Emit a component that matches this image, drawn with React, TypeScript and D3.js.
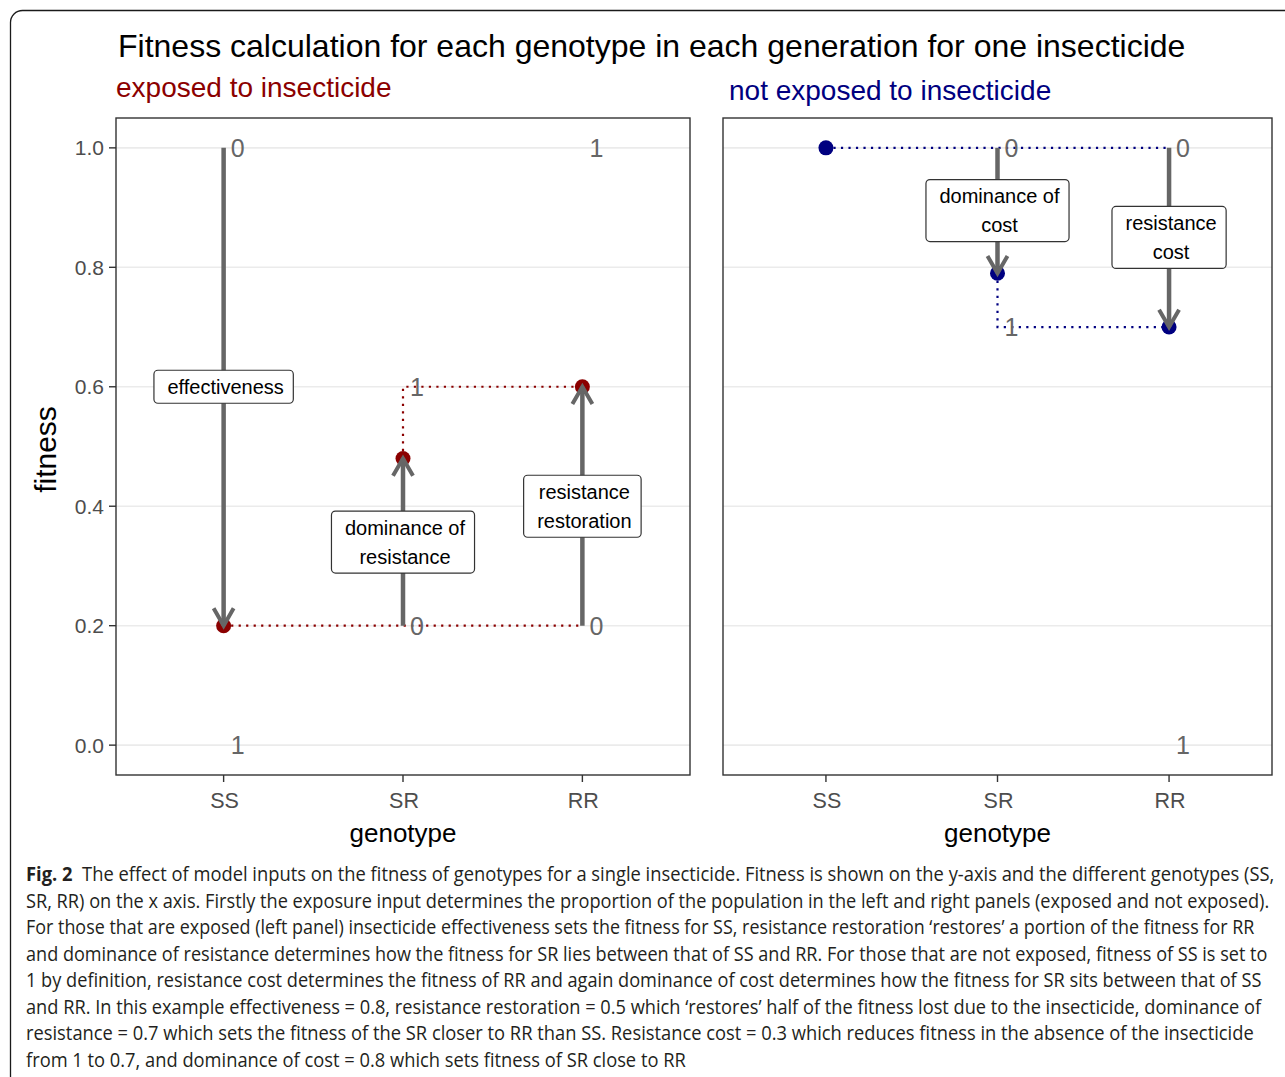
import React, { useEffect, useRef } from "react";
import * as d3 from "d3";

// ---- data ----
const genotypes = ["SS", "SR", "RR"];
const yTicks = [0, 0.2, 0.4, 0.6, 0.8, 1.0];

// exposed to insecticide
const exposedFitness = [0.2, 0.48, 0.6];
const exposedArrows = [
  { g: "SS", from: 1.0, to: 0.2 },
  { g: "SR", from: 0.2, to: 0.48 },
  { g: "RR", from: 0.2, to: 0.6 },
];
const exposedScaleMarks = [
  { g: "SS", y: 1.0, t: "0" },
  { g: "SS", y: 0.0, t: "1" },
  { g: "SR", y: 0.2, t: "0" },
  { g: "SR", y: 0.6, t: "1" },
  { g: "RR", y: 0.2, t: "0" },
  { g: "RR", y: 1.0, t: "1" },
];
const exposedLabels = [
  { g: "SS", y: 0.6, lines: ["effectiveness"] },
  { g: "SR", y: 0.34, lines: ["dominance of", "resistance"] },
  { g: "RR", y: 0.4, lines: ["resistance", "restoration"] },
];
const exposedGuides = [
  [["SS", 0.2], ["RR", 0.2]],
  [["SR", 0.48], ["SR", 0.6], ["RR", 0.6]],
];

// not exposed to insecticide
const unexposedFitness = [1.0, 0.79, 0.7];
const unexposedArrows = [
  { g: "SR", from: 1.0, to: 0.79 },
  { g: "RR", from: 1.0, to: 0.7 },
];
const unexposedScaleMarks = [
  { g: "SR", y: 1.0, t: "0" },
  { g: "SR", y: 0.7, t: "1" },
  { g: "RR", y: 1.0, t: "0" },
  { g: "RR", y: 0.0, t: "1" },
];
const unexposedLabels = [
  { g: "SR", y: 0.895, lines: ["dominance of", "cost"] },
  { g: "RR", y: 0.85, lines: ["resistance", "cost"] },
];
const unexposedGuides = [
  [["SS", 1.0], ["RR", 1.0]],
  [["SR", 0.79], ["SR", 0.7], ["RR", 0.7]],
];

const title = "Fitness calculation for each genotype in each generation for one insecticide";
const captionLead = "Fig. 2";
const captionLines = [
  "The effect of model inputs on the fitness of genotypes for a single insecticide. Fitness is shown on the y-axis and the different genotypes (SS,",
  "SR, RR) on the x axis. Firstly the exposure input determines the proportion of the population in the left and right panels (exposed and not exposed).",
  "For those that are exposed (left panel) insecticide effectiveness sets the fitness for SS, resistance restoration \u2018restores\u2019 a portion of the fitness for RR",
  "and dominance of resistance determines how the fitness for SR lies between that of SS and RR. For those that are not exposed, fitness of SS is set to",
  "1 by definition, resistance cost determines the fitness of RR and again dominance of cost determines how the fitness for SR sits between that of SS",
  "and RR. In this example effectiveness = 0.8, resistance restoration = 0.5 which \u2018restores\u2019 half of the fitness lost due to the insecticide, dominance of",
  "resistance = 0.7 which sets the fitness of the SR closer to RR than SS. Resistance cost = 0.3 which reduces fitness in the absence of the insecticide",
  "from 1 to 0.7, and dominance of cost = 0.8 which sets fitness of SR close to RR",
];
const captionLineEnds = [1275, 1270, 1255, 1268, 1262, 1262, 1255, 686];

const FONT = "'Liberation Sans', Arial, sans-serif";
const ARROW = "#666666";

export default function App() {
  const ref = useRef<SVGSVGElement>(null);

  useEffect(() => {
    const svg = d3.select(ref.current);
    svg.selectAll("*").remove();

    // figure frame
    svg.append("rect")
      .attr("x", 10.5).attr("y", 10.5)
      .attr("width", 1320).attr("height", 1120)
      .attr("rx", 12)
      .attr("fill", "none").attr("stroke", "#1a1a1a").attr("stroke-width", 1.3);

    svg.append("text")
      .attr("x", 118).attr("y", 57)
      .attr("font-family", FONT).attr("font-size", 32).attr("fill", "#000")
      .text(title);

    const top = 118, bottom = 775;
    const y = d3.scaleLinear().domain([-0.05, 1.05]).range([bottom, top]);

    const panels = [
      {
        x0: 116, x1: 690, color: "#8B0000", subtitle: "exposed to insecticide", subX: 116, subY: 97,
        fitness: exposedFitness, arrows: exposedArrows, marks: exposedScaleMarks,
        labels: exposedLabels, guides: exposedGuides, yAxis: true,
      },
      {
        x0: 723, x1: 1272, color: "#000080", subtitle: "not exposed to insecticide", subX: 729, subY: 100,
        fitness: unexposedFitness, arrows: unexposedArrows, marks: unexposedScaleMarks,
        labels: unexposedLabels, guides: unexposedGuides, yAxis: false,
      },
    ];

    panels.forEach((p) => {
      const x = d3.scalePoint<string>().domain(genotypes).range([p.x0, p.x1]).padding(0.6);
      const g = svg.append("g");

      g.append("text")
        .attr("x", p.subX).attr("y", p.subY)
        .attr("font-family", FONT).attr("font-size", 28).attr("fill", p.color)
        .text(p.subtitle);

      // grid
      g.selectAll(".grid").data(yTicks).join("line")
        .attr("x1", p.x0).attr("x2", p.x1)
        .attr("y1", (d) => y(d)).attr("y2", (d) => y(d))
        .attr("stroke", "#EBEBEB").attr("stroke-width", 1.6);

      // dotted guides
      const lineGen = d3.line<any>().x((d) => x(d[0])!).y((d) => y(d[1]));
      p.guides.forEach((gd) => {
        g.append("path")
          .attr("d", lineGen(gd as any))
          .attr("fill", "none").attr("stroke", p.color)
          .attr("stroke-width", 2.2).attr("stroke-dasharray", "2.2 5.3");
      });

      // points
      g.selectAll(".pt").data(genotypes).join("circle")
        .attr("cx", (d) => x(d)!)
        .attr("cy", (_, i) => y(p.fitness[i]))
        .attr("r", 7.5).attr("fill", p.color);

      // arrows
      p.arrows.forEach((a) => {
        const ax = x(a.g)!;
        const y1 = y(a.from), y2 = y(a.to);
        g.append("line")
          .attr("x1", ax).attr("x2", ax).attr("y1", y1).attr("y2", y2)
          .attr("stroke", ARROW).attr("stroke-width", 4.5);
        const dir = Math.sign(y2 - y1);
        const len = 20, ang = Math.PI / 6;
        const dx = len * Math.sin(ang), dy = -dir * len * Math.cos(ang);
        g.append("path")
          .attr("d", `M${ax - dx},${y2 + dy}L${ax},${y2}L${ax + dx},${y2 + dy}`)
          .attr("fill", "none").attr("stroke", ARROW).attr("stroke-width", 4)
          .attr("stroke-linejoin", "miter");
      });

      // scale marks 0 / 1
      g.selectAll(".mk").data(p.marks).join("text")
        .attr("x", (d) => x(d.g)! + 14)
        .attr("y", (d) => y(d.y))
        .attr("dy", "0.36em")
        .attr("text-anchor", "middle")
        .attr("font-family", FONT).attr("font-size", 25).attr("fill", "#666666")
        .text((d) => d.t);

      // labels
      p.labels.forEach((l) => {
        const cx = x(l.g)!, cy = y(l.y);
        const lh = 29, fs = 20;
        const lg = g.append("g");
        const rect = lg.append("rect");
        const n = l.lines.length;
        let maxW = 0;
        l.lines.forEach((t, i) => {
          const tx = lg.append("text")
            .attr("x", cx + 2)
            .attr("y", cy + (i - (n - 1) / 2) * lh + fs * 0.35)
            .attr("text-anchor", "middle")
            .attr("font-family", FONT).attr("font-size", fs).attr("fill", "#000")
            .text(t);
          const w = (tx.node() as SVGTextElement).getComputedTextLength();
          maxW = Math.max(maxW, w);
        });
        const h = (n - 1) * lh + 33;
        const w = maxW + 23;
        rect.attr("x", cx - w / 2).attr("y", cy - h / 2)
          .attr("width", w).attr("height", h).attr("rx", 4)
          .attr("fill", "#fff").attr("stroke", "#333").attr("stroke-width", 1.2);
      });

      // panel border
      g.append("rect")
        .attr("x", p.x0).attr("y", top)
        .attr("width", p.x1 - p.x0).attr("height", bottom - top)
        .attr("fill", "none").attr("stroke", "#333333").attr("stroke-width", 1.4);

      // x axis
      genotypes.forEach((gt) => {
        g.append("line")
          .attr("x1", x(gt)!).attr("x2", x(gt)!)
          .attr("y1", bottom).attr("y2", bottom + 7)
          .attr("stroke", "#333").attr("stroke-width", 1.4);
        g.append("text")
          .attr("x", x(gt)! + 1).attr("y", 808)
          .attr("text-anchor", "middle")
          .attr("font-family", FONT).attr("font-size", 21.5).attr("fill", "#4D4D4D")
          .text(gt);
      });
      g.append("text")
        .attr("x", (p.x0 + p.x1) / 2).attr("y", 842)
        .attr("text-anchor", "middle")
        .attr("font-family", FONT).attr("font-size", 26).attr("fill", "#000")
        .text("genotype");

      if (p.yAxis) {
        yTicks.forEach((t) => {
          g.append("line")
            .attr("x1", p.x0 - 7).attr("x2", p.x0)
            .attr("y1", y(t)).attr("y2", y(t))
            .attr("stroke", "#333").attr("stroke-width", 1.4);
          g.append("text")
            .attr("x", p.x0 - 12).attr("y", y(t))
            .attr("dy", "0.36em")
            .attr("text-anchor", "end")
            .attr("font-family", FONT).attr("font-size", 21).attr("fill", "#4D4D4D")
            .text(d3.format(".1f")(t));
        });
        g.append("text")
          .attr("transform", `translate(56,${(top + bottom) / 2 + 3}) rotate(-90)`)
          .attr("text-anchor", "middle")
          .attr("font-family", FONT).attr("font-size", 30).attr("fill", "#000")
          .text("fitness");
      }
    });

    // caption
    const capFont = "'Open Sans', 'Noto Sans', sans-serif";
    captionLines.forEach((line, i) => {
      const t = svg.append("text")
        .attr("font-family", capFont).attr("font-size", 19.5).attr("fill", "#231F20");
      if (i === 0) {
        t.append("tspan").attr("font-weight", "bold").text(captionLead);
        t.append("tspan").attr("xml:space", "preserve").text("\u00a0 " + line);
      } else {
        t.text(line);
      }
      const nat = (t.node() as SVGTextElement).getComputedTextLength();
      const target = captionLineEnds[i] - 26;
      const sx = target / nat;
      t.attr("transform", `translate(26,${881 + i * 26.5}) scale(${sx},1)`);
    });
  }, []);

  return (
    <svg
      ref={ref}
      width={1285}
      height={1077}
      style={{ position: "absolute", left: 0, top: 0, background: "#fff" }}
    />
  );
}
